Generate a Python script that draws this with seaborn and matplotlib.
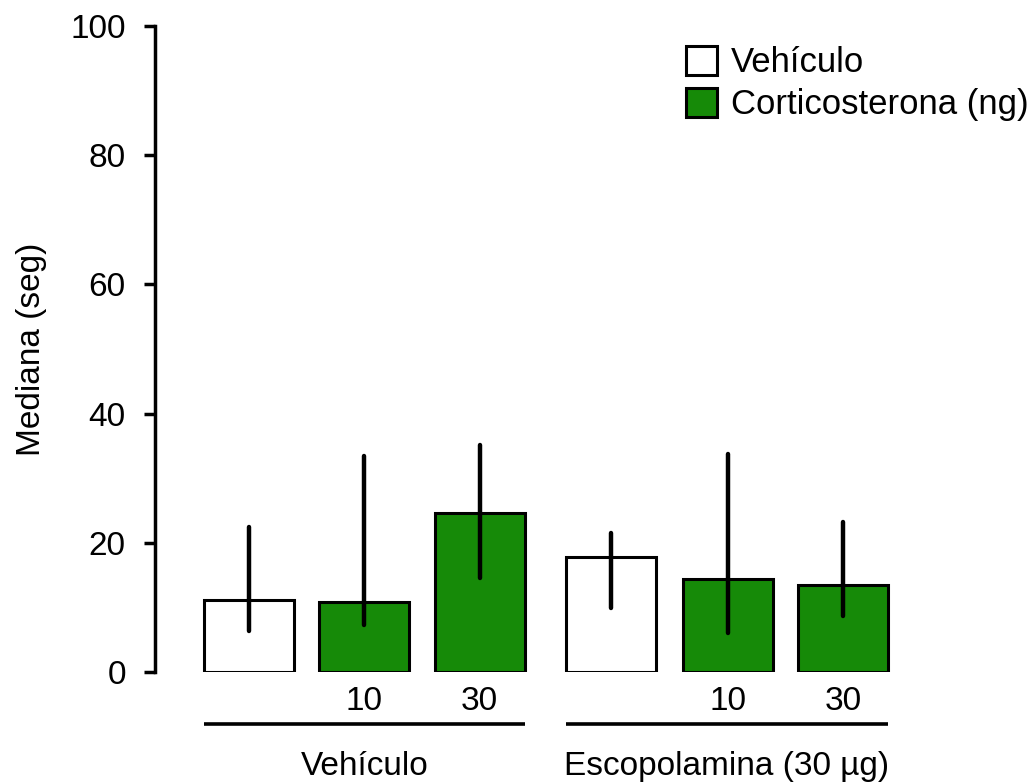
import numpy as np
import pandas as pd
import matplotlib
matplotlib.use("Agg")
import matplotlib.pyplot as plt
import matplotlib.transforms as mtransforms
import seaborn as sns

# ---- data ----
bar_labels = ["", "10", "30", "", "10", "30"]
treatment = ["Vehículo", "Corticosterona (ng)", "Corticosterona (ng)",
             "Vehículo", "Corticosterona (ng)", "Corticosterona (ng)"]
medians = [11.2, 10.9, 24.6, 17.8, 14.4, 13.5]
q_low = [6.4, 7.2, 14.6, 9.9, 6.0, 8.7]
q_high = [22.4, 33.4, 35.1, 21.5, 33.7, 23.2]
groups = ["Vehículo", "Escopolamina (30 µg)"]
group_members = [[0, 1, 2], [3, 4, 5]]
yticks = [0, 20, 40, 60, 80, 100]

# layout positions for the bars (group gap slightly wider)
positions = [0.0, 1.0, 2.0, 3.14, 4.15, 5.15]
GREEN = "#168A08"

rows = []
for i in range(len(medians)):
    for v in (q_low[i], medians[i], q_high[i]):
        rows.append({"pos": positions[i], "val": v, "trt": treatment[i]})
df = pd.DataFrame(rows)

sns.set_style("ticks")
plt.rcParams["font.family"] = ["Liberation Sans", "DejaVu Sans"]
plt.rcParams["text.color"] = "black"
plt.rcParams["axes.labelcolor"] = "black"
plt.rcParams["xtick.color"] = "black"
plt.rcParams["ytick.color"] = "black"

fig = plt.figure(figsize=(10.32, 7.84), dpi=100)
ax = fig.add_axes([155 / 1032, 112 / 784, 1 - 155 / 1032, 646 / 784])

sns.barplot(
    data=df, x="pos", y="val", hue="trt", native_scale=True,
    hue_order=["Vehículo", "Corticosterona (ng)"],
    palette={"Vehículo": "white", "Corticosterona (ng)": GREEN},
    estimator=np.median,
    errorbar=lambda x: (np.min(x), np.max(x)),
    err_kws={"linewidth": 3.2, "color": "black", "solid_capstyle": "round"},
    capsize=0, width=0.78, edgecolor="black", linewidth=2.2,
    saturation=1, dodge=False, ax=ax, zorder=2,
)

ax.set_xlim(-0.815, 6.79)
ax.set_ylim(0, 100)
ax.set_yticks(yticks)
ax.set_yticklabels([str(t) for t in yticks], fontsize=24)
ax.tick_params(axis="y", length=8, width=2.5, pad=13, color="black",
               labelcolor="black")
ax.set_xticks([])
ax.set_xlabel("")
ax.set_ylabel("Mediana (seg)", fontsize=24, labelpad=17, color="black")
for s in ["top", "right", "bottom"]:
    ax.spines[s].set_visible(False)
ax.spines["left"].set_linewidth(2.5)
ax.spines["left"].set_color("black")

trans = mtransforms.blended_transform_factory(ax.transData, ax.transAxes)
half = 0.78 / 2
for i, lab in enumerate(bar_labels):
    if lab:
        ax.text(positions[i], -0.046, lab, transform=trans, ha="center",
                va="center", fontsize=24, color="black", clip_on=False)
for g, members in zip(groups, group_members):
    x0 = positions[members[0]] - half
    x1 = positions[members[-1]] + half
    ax.plot([x0, x1], [-0.081, -0.081], transform=trans, color="black",
            linewidth=2.6, clip_on=False, solid_capstyle="butt")
    ax.text((x0 + x1) / 2, -0.147, g, transform=trans, ha="center",
            va="center", fontsize=24, color="black", clip_on=False)

handles, labels = ax.get_legend_handles_labels()
if ax.get_legend() is not None:
    ax.get_legend().remove()
leg = fig.legend(handles, labels, loc="upper left",
                 bbox_to_anchor=(686 / 1032, 1 - 46 / 784),
                 frameon=False, fontsize=25, handlelength=0.9,
                 handleheight=0.9, handletextpad=0.4, labelspacing=0.25,
                 borderpad=0, borderaxespad=0)
for t in leg.get_texts():
    t.set_color("black")

fig.savefig("out.png", dpi=100)
